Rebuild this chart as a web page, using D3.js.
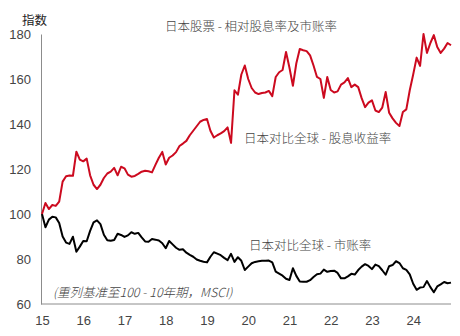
<!DOCTYPE html>
<html><head><meta charset="utf-8">
<script src="https://cdn.jsdelivr.net/npm/d3@7"></script>
<style>
body{margin:0;background:#fff;}
svg{display:block;}
</style></head>
<body>
<svg id="c" width="460" height="336"></svg>
<script>
// Monthly series, Jan 2015 - Dec 2024 (rebased to 100)
const startYear = 2015;
const dividendYield = [
100,104.9,102.2,104,103.6,105.5,114.4,116.8,117.1,117,127.7,124.2,
123.4,124.6,117.2,113,111.1,113,116,118,118.8,120.5,117.2,121,
120.3,117.5,116.6,116.9,117.8,118.8,119.2,119,118.5,121.8,125,127.6,
122,125,126,127.5,130.2,131.3,132.5,135,137,139,141,141.8,
142.2,137,134,135,135.8,136.8,138.5,131.6,155,153,162,166,
160,156,154,153.3,153.8,154,154.7,152.4,160.9,163,164,172,
165,157,167,173.3,172.8,172.4,170.5,166,160.9,160,151.6,160.9,
155.1,154,154.5,157.5,158.5,160.4,156.4,157.5,156.4,151.5,147.5,149.5,
150.5,146,145.3,147.3,154.2,145,142.5,140.5,139.1,145.3,146.5,155,
162,169.5,165.8,180,171.6,176,179.5,174.2,171.6,173.5,176,175
];
const priceToBook = [
100,94.1,97.5,98.8,98.5,96,90,87.3,86.7,89.9,83.2,85.5,
88,87.9,92.5,96.3,97.2,95.5,90.8,88.3,88.1,88.4,91.2,90.7,
89.8,90.5,91.9,91.2,91.6,89.6,87.8,87.7,88.9,88.6,88.2,87,
84.8,88,86.5,85,84.1,84.3,82.8,81.8,81,79.8,79.2,78.8,
78.5,81,83,82.4,81.7,80.5,79.5,82.3,78.7,80.8,79.2,75.1,
76.6,78.1,78.7,79,79.2,79.2,79.3,78.5,74.4,73.5,72.6,71.2,
70.7,75.9,72.5,70,69.9,69.9,70.6,72,73.2,73.5,75.3,74.3,
74.7,74.8,73.8,71.4,71.4,72.3,73.4,73.1,75.1,76.6,77.7,76.9,
75.5,77.5,76.8,75,73,76.8,77.3,79,78.2,75.9,75.2,73.2,
69,66.3,67.3,67.5,70.2,67.5,65.2,67.8,68.7,69.8,69.2,69.5
];
const yTicks = [60,80,100,120,140,160,180];
const xTickYears = [15,16,17,18,19,20,21,22,23,24];
const yUnit = "指数";
const title = "日本股票 - 相对股息率及市账率";
const labelDiv = "日本对比全球 - 股息收益率";
const labelPB = "日本对比全球 - 市账率";
const note = "(重列基准至100 - 10年期，MSCI)";

const svg = d3.select("#c");
const m = {left:41, right:9, top:34, bottom:32};
const W = 460, H = 336;
const x = d3.scaleLinear().domain([startYear, startYear + 119/12]).range([m.left+1, 451]);
const y = d3.scaleLinear().domain([60,180]).range([H-m.bottom, m.top]);
const axisColor = "#8c8c8c";
const textColor = "#444";
const cjk = "'Noto Sans CJK SC','Noto Sans',sans-serif";
const num = "'Liberation Sans',Arial,sans-serif";

// axes
const yAxis = svg.append("g").attr("transform",`translate(${m.left},0)`)
  .call(d3.axisLeft(y).tickValues(yTicks).tickSize(0).tickPadding(10));
yAxis.select(".domain").attr("stroke",axisColor).attr("stroke-width",1);
yAxis.selectAll("text").attr("font-family",num).attr("font-size",13).attr("fill",textColor);

const xAxis = svg.append("g").attr("transform",`translate(0,${H-m.bottom})`)
  .call(d3.axisBottom(x).tickValues(xTickYears.map(d=>2000+d)).tickSize(0).tickPadding(12)
     .tickFormat(d=>String(d-2000)));
xAxis.select(".domain").attr("stroke",axisColor).attr("stroke-width",1)
  .attr("d",`M${m.left},0H451`);
xAxis.selectAll("text").attr("font-family",num).attr("font-size",13).attr("fill",textColor);

const line = d3.line().x((d,i)=>x(startYear + i/12)).y(d=>y(d));
svg.append("path").datum(priceToBook).attr("d",line)
  .attr("fill","none").attr("stroke","#000").attr("stroke-width",2).attr("stroke-linejoin","round");
svg.append("path").datum(dividendYield).attr("d",line)
  .attr("fill","none").attr("stroke","#cc0a1f").attr("stroke-width",2).attr("stroke-linejoin","round");

// texts
svg.append("text").attr("x",22).attr("y",25).text(yUnit)
  .attr("font-family",cjk).attr("font-size",12.5).attr("fill","#222");
svg.append("text").attr("x",251).attr("y",31).attr("text-anchor","middle").text(title)
  .attr("font-family",cjk).attr("font-size",12.5).attr("font-weight",300).attr("fill",textColor);
svg.append("text").attr("x",244).attr("y",143).text(labelDiv)
  .attr("font-family",cjk).attr("font-size",12.5).attr("font-weight",300).attr("fill",textColor);
svg.append("text").attr("x",249).attr("y",250).text(labelPB)
  .attr("font-family",cjk).attr("font-size",12.5).attr("font-weight",300).attr("fill",textColor);
svg.append("text").attr("x",53).attr("y",297).text(note)
  .attr("font-family",cjk).attr("font-size",12.5).attr("font-weight",300).attr("font-style","italic").attr("fill",textColor);
</script>
</body></html>
